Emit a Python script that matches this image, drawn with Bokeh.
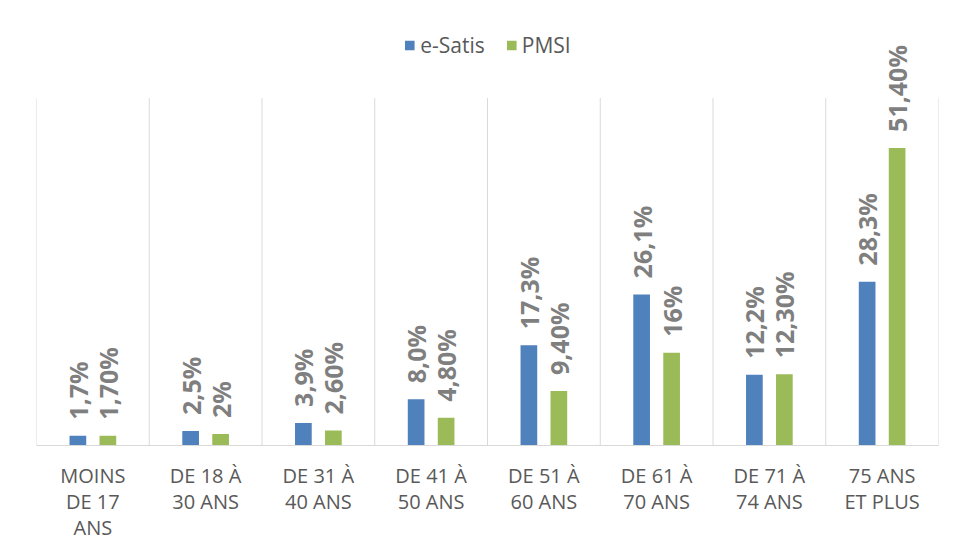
import numpy as np
from bokeh.plotting import figure
from bokeh.models import Range1d, FixedTicker, ColumnDataSource, Legend
from bokeh.core.properties import value
from bokeh.embed import file_html
from bokeh.resources import INLINE

categories = ["MOINS\nDE 17\nANS", "DE 18 À\n30 ANS", "DE 31 À\n40 ANS", "DE 41 À\n50 ANS",
              "DE 51 À\n60 ANS", "DE 61 À\n70 ANS", "DE 71 À\n74 ANS", "75 ANS\nET PLUS"]
esatis = [1.7, 2.5, 3.9, 8.0, 17.3, 26.1, 12.2, 28.3]
pmsi = [1.7, 2.0, 2.6, 4.8, 9.4, 16.0, 12.3, 51.4]
esatis_labels = ["1,7%", "2,5%", "3,9%", "8,0%", "17,3%", "26,1%", "12,2%", "28,3%"]
pmsi_labels = ["1,70%", "2%", "2,60%", "4,80%", "9,40%", "16%", "12,30%", "51,40%"]
axis_max = 60

FONT = "Open Sans"
BLUE = "#4f81bd"
GREEN = "#9bbb59"

n = len(categories)
centers = np.arange(n) + 0.5
off = 0.133
bw = 0.148

p = figure(frame_width=902, frame_height=428, output_backend="svg", toolbar_location=None,
           x_range=Range1d(0, n), y_range=Range1d(0, 428 / 5.79),
           min_border_left=36, min_border_right=8, min_border_top=17, min_border_bottom=10)
p.outline_line_color = None
p.background_fill_color = "white"
p.border_fill_color = "white"
p.xgrid.visible = False
p.ygrid.visible = False
p.yaxis.visible = False

# category separators
bounds = np.arange(n + 1)
p.segment(x0=bounds, y0=0, x1=bounds, y1=axis_max, line_color="#d9d9d9", line_width=1)

src_b = ColumnDataSource(dict(x=centers - off, top=esatis, lab=esatis_labels))
src_g = ColumnDataSource(dict(x=centers + off, top=pmsi, lab=pmsi_labels))
rb = p.vbar(x="x", top="top", bottom=0, width=bw, source=src_b, fill_color=BLUE, line_color=None)
rg = p.vbar(x="x", top="top", bottom=0, width=bw, source=src_g, fill_color=GREEN, line_color=None)

for src in (src_b, src_g):
    p.text(x="x", y="top", text="lab", source=src, angle=np.pi / 2, y_offset=-16,
           text_align="left", text_baseline="middle", text_font=value(FONT),
           text_font_style="bold", text_font_size="25px", text_color="#7f7f7f")

legend = Legend(items=[("e-Satis", [rb]), ("PMSI", [rg])], location="top_center",
                orientation="horizontal")
legend.border_line_color = None
legend.background_fill_alpha = 0
legend.label_text_font = FONT
legend.label_text_font_size = "21px"
legend.label_text_color = "#595959"
legend.glyph_width = 12
legend.glyph_height = 12
legend.spacing = 20
legend.padding = 0
legend.margin = 14
legend.label_standoff = 5
p.add_layout(legend, "center")

ax = p.xaxis[0]
ax.ticker = FixedTicker(ticks=list(centers))
ax.major_label_overrides = {float(c): lab for c, lab in zip(centers, categories)}
ax.axis_line_color = "#d9d9d9"
ax.major_tick_line_color = None
ax.minor_tick_line_color = None
ax.major_label_text_font = FONT
ax.major_label_text_font_size = "20px"
ax.major_label_text_line_height = 0.98
ax.major_label_text_color = "#595959"
ax.major_label_standoff = 10

open("out.html", "w").write(file_html(p, INLINE))
